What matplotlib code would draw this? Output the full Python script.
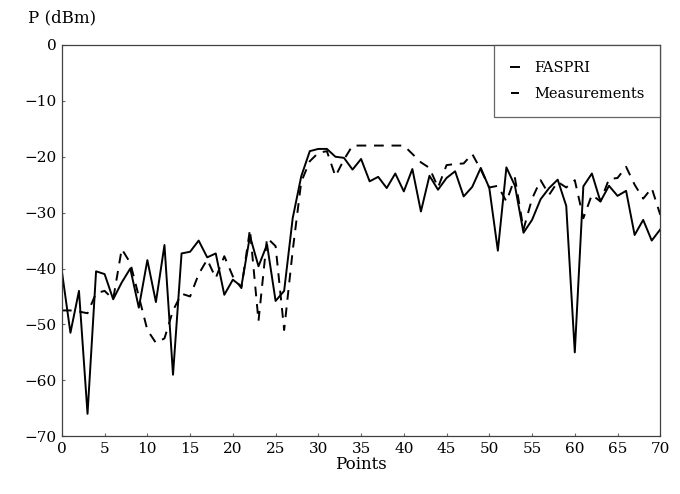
import matplotlib
matplotlib.use("Agg")
import matplotlib.pyplot as plt
import numpy as np

points = list(range(0, 71))
faspri = [-40.5, -51.5, -44, -66, -40.5, -41, -45.5, -42.5, -40, -47,
          -38.5, -46, -35.8, -59, -37.3, -37, -35, -38, -37.3, -44.7,
          -42, -43.2, -34.2, -39.6, -35.7, -45.8, -44, -31, -23.5, -19,
          -18.6, -18.6, -20, -20.2, -22.3, -20.4, -24.4, -23.6, -25.6, -23,
          -26.2, -22.2, -29.8, -23.4, -25.9, -23.8, -22.6, -27.1, -25.4, -22,
          -25.6, -36.8, -21.9, -25.2, -33.6, -31.3, -27.6, -25.6, -24.1, -28.8,
          -55, -25.3, -23, -28, -25.2, -27, -26.1, -34, -31.3, -35, -33]
measurements = [-47.5, -47.5, -47.7, -48, -44.4, -44, -45.5, -36.5, -39, -45,
                -51, -53.3, -52.5, -47.5, -44.5, -45, -41, -38.4, -41.7, -37.8,
                -41.4, -43.5, -33, -49.4, -34.5, -36, -51, -36.8, -24.5, -20.8,
                -19.3, -19, -23.5, -20.5, -18, -18, -18, -18, -18, -18,
                -18, -19.5, -21, -22, -25.5, -21.5, -21.3, -21.2, -19.5, -22.3,
                -25.5, -25.2, -28, -23.8, -33, -27.5, -24.2, -26.8, -24.5, -25.5,
                -24.2, -31, -26.8, -28, -24, -23.8, -21.8, -25, -27.5, -25.6, -30.4]
xticks = list(range(0, 71, 5))
yticks = list(range(-70, 1, 10))

plt.rcParams['font.family'] = ['DejaVu Serif']

fig = plt.figure(figsize=(6.8, 4.94), dpi=100)
ax = fig.add_axes([0.091, 0.117, 0.880, 0.792])

ax.plot(points, faspri, color='black', lw=1.4, label='FASPRI')
ax.plot(points, measurements, color='black', lw=1.4, dashes=(5, 4), label='Measurements')

ax.set_xlim(0, 70)
ax.set_ylim(-70, 0)
ax.set_xticks(xticks)
ax.set_yticks(yticks)
ax.set_yticklabels(['\u221270', '\u221260', '\u221250', '\u221240', '\u221230', '\u221220', '\u221210', '0'])
ax.tick_params(direction='in', length=2, labelsize=11, pad=4, color='0.4')
for s in ax.spines.values():
    s.set_linewidth(0.9)
    s.set_color('0.25')

leg = ax.legend(loc='upper right', handlelength=0.6, handletextpad=1.0,
                fontsize=10.5, frameon=True, fancybox=False, borderaxespad=0.0,
                borderpad=1.1, labelspacing=0.85, edgecolor='0.25')
leg.get_frame().set_linewidth(0.9)

ax.set_xlabel('Points', fontsize=12, labelpad=0)
fig.text(0.091, 0.963, 'P (dBm)', fontsize=12, ha='center', va='center')

fig.savefig('out.png', dpi=100)
